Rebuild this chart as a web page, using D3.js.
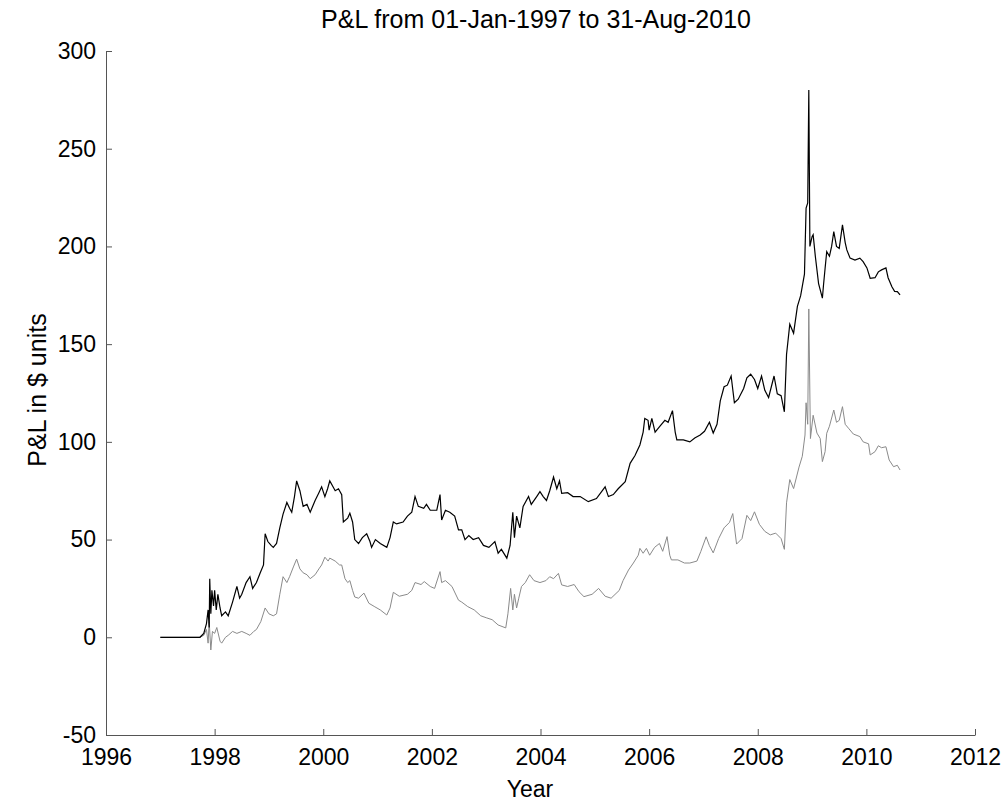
<!DOCTYPE html>
<html>
<head>
<meta charset="utf-8">
<script src="https://cdn.jsdelivr.net/npm/d3@7"></script>
<style>
  body { margin: 0; background: #fff; }
  text { font-family: "Liberation Sans", Arial, sans-serif; fill: #000; }
</style>
</head>
<body>
<div class="chart"></div>
<script>
// --- Data (decimal year, P&L) ---
const titleText = "P&L from 01-Jan-1997 to 31-Aug-2010";
const xTicks = [1996, 1998, 2000, 2002, 2004, 2006, 2008, 2010, 2012];
const yTicks = [-50, 0, 50, 100, 150, 200, 250, 300];

const blackYears = [
  1997.00, 1997.73, 1997.80, 1997.85, 1997.88, 1997.90, 1997.91, 1997.93, 1997.95, 1997.98,
  1998.00, 1998.03, 1998.06, 1998.10, 1998.13, 1998.20, 1998.25, 1998.33, 1998.41, 1998.46,
  1998.50, 1998.58, 1998.65, 1998.70, 1998.77, 1998.84, 1998.90, 1998.93, 1998.98, 1999.04,
  1999.08, 1999.14, 1999.20, 1999.26, 1999.33, 1999.38, 1999.42, 1999.47, 1999.51, 1999.57,
  1999.63, 1999.70, 1999.76, 1999.85, 1999.92, 1999.97, 2000.03, 2000.08, 2000.12, 2000.18,
  2000.22, 2000.28, 2000.34, 2000.37, 2000.45, 2000.49, 2000.54, 2000.58, 2000.65, 2000.72,
  2000.80, 2000.86, 2000.89, 2000.96, 2001.05, 2001.17, 2001.23, 2001.29, 2001.35, 2001.47,
  2001.55, 2001.63, 2001.69, 2001.75, 2001.85, 2001.90, 2001.97, 2002.09, 2002.15, 2002.18,
  2002.25, 2002.33, 2002.42, 2002.49, 2002.55, 2002.61, 2002.68, 2002.76, 2002.86, 2002.95,
  2003.05, 2003.16, 2003.22, 2003.28, 2003.38, 2003.44, 2003.49, 2003.52, 2003.56, 2003.62,
  2003.68, 2003.78, 2003.83, 2003.93, 2003.99, 2004.05, 2004.11, 2004.17, 2004.24, 2004.30,
  2004.35, 2004.39, 2004.50, 2004.60, 2004.73, 2004.88, 2005.03, 2005.19, 2005.25, 2005.34,
  2005.43, 2005.56, 2005.65, 2005.74, 2005.83, 2005.89, 2005.92, 2005.98, 2006.00, 2006.05,
  2006.11, 2006.20, 2006.29, 2006.35, 2006.43, 2006.48, 2006.51, 2006.63, 2006.75, 2006.84,
  2006.94, 2007.02, 2007.11, 2007.18, 2007.25, 2007.31, 2007.38, 2007.44, 2007.51, 2007.57,
  2007.64, 2007.74, 2007.80, 2007.87, 2007.94, 2008.00, 2008.07, 2008.13, 2008.20, 2008.30,
  2008.36, 2008.43, 2008.49, 2008.53, 2008.59, 2008.66, 2008.73, 2008.79, 2008.86, 2008.89,
  2008.92, 2008.94, 2008.96, 2009.00, 2009.02, 2009.06, 2009.12, 2009.19, 2009.21, 2009.24,
  2009.27, 2009.32, 2009.36, 2009.40, 2009.45, 2009.50, 2009.56, 2009.61, 2009.64, 2009.70,
  2009.79, 2009.88, 2009.94, 2010.01, 2010.07, 2010.16, 2010.22, 2010.28, 2010.36, 2010.40,
  2010.47, 2010.52, 2010.57, 2010.62
];
const blackValues = [
  0, 0, 2, 7, 14, 5, 30, 12, 24, 16,
  24, 14, 22, 15, 11, 13, 11, 18, 26, 20,
  22, 28, 31, 25, 28, 33, 37, 53, 49, 47,
  46, 48, 56, 63, 69, 66, 64, 72, 80, 75,
  67, 68, 64, 70, 74, 77, 72, 76, 80, 77,
  75, 76, 73, 59, 61, 63.5, 59, 50, 48, 51,
  53, 49, 46, 50, 48, 46, 51, 59, 58, 59,
  62, 64, 72, 67, 66, 68, 65, 65, 73, 60,
  65, 64, 62, 55, 55, 50, 52, 50, 51, 47,
  46, 49, 43, 45, 40.5, 47, 64, 51, 62, 56,
  67, 72, 68, 72, 74.5, 72, 70, 75, 82, 76,
  80, 73.7, 74, 72, 72, 69.4, 71, 77, 72, 73,
  76, 79.6, 89, 93, 98.4, 105, 112, 111, 106, 112,
  105, 108, 111, 110, 116, 105, 101, 101, 100, 102,
  103.5, 105.4, 110, 104.5, 109, 121, 128.2, 129, 133.7, 120,
  121.8, 127.3, 132.8, 134.6, 131.9, 127.3, 133.7, 126.4, 122.7, 133.7,
  124.6, 123.6, 115.4, 144.7, 160.2, 155.6, 169.3, 174.8, 185.8, 219.6,
  222.3, 280, 200, 205, 206, 195, 181, 173.5, 180, 188.8,
  197.3, 195, 200, 207.6, 200, 199, 211, 202, 198.2, 194,
  193, 194, 192.2, 189, 183.7, 184, 187, 188, 189, 184,
  179.4, 177, 176.9, 175.2
];

const grayYears = [
  1997.00, 1997.73, 1997.80, 1997.85, 1997.88, 1997.90, 1997.93, 1997.96, 1998.00, 1998.04,
  1998.10, 1998.13, 1998.20, 1998.25, 1998.33, 1998.41, 1998.50, 1998.58, 1998.65, 1998.72,
  1998.77, 1998.85, 1998.93, 1999.00, 1999.08, 1999.14, 1999.20, 1999.26, 1999.33, 1999.38,
  1999.45, 1999.51, 1999.57, 1999.63, 1999.70, 1999.76, 1999.85, 1999.92, 1999.97, 2000.03,
  2000.09, 2000.12, 2000.22, 2000.30, 2000.34, 2000.40, 2000.45, 2000.49, 2000.54, 2000.58,
  2000.65, 2000.75, 2000.84, 2000.95, 2001.05, 2001.17, 2001.23, 2001.29, 2001.40, 2001.55,
  2001.63, 2001.69, 2001.80, 2001.86, 2001.97, 2002.05, 2002.15, 2002.18, 2002.25, 2002.37,
  2002.49, 2002.55, 2002.66, 2002.78, 2002.90, 2003.00, 2003.11, 2003.22, 2003.36, 2003.40,
  2003.45, 2003.49, 2003.52, 2003.56, 2003.60, 2003.65, 2003.72, 2003.80, 2003.88, 2003.99,
  2004.10, 2004.17, 2004.24, 2004.33, 2004.39, 2004.50, 2004.62, 2004.71, 2004.80, 2004.95,
  2005.07, 2005.19, 2005.30, 2005.45, 2005.52, 2005.62, 2005.71, 2005.80, 2005.83, 2005.89,
  2005.95, 2006.01, 2006.10, 2006.19, 2006.25, 2006.33, 2006.38, 2006.41, 2006.53, 2006.65,
  2006.75, 2006.88, 2006.95, 2007.05, 2007.11, 2007.18, 2007.28, 2007.38, 2007.48, 2007.54,
  2007.61, 2007.71, 2007.80, 2007.87, 2007.94, 2008.03, 2008.13, 2008.23, 2008.33, 2008.43,
  2008.49, 2008.53, 2008.59, 2008.66, 2008.76, 2008.82, 2008.87, 2008.89, 2008.92, 2008.94,
  2008.97, 2009.02, 2009.09, 2009.15, 2009.19, 2009.24, 2009.27, 2009.32, 2009.40, 2009.45,
  2009.50, 2009.56, 2009.61, 2009.67, 2009.76, 2009.88, 2009.94, 2010.04, 2010.07, 2010.16,
  2010.22, 2010.28, 2010.36, 2010.42, 2010.50, 2010.57, 2010.62
];
const grayValues = [
  0, 0, 1, 4, -3, 8, -6.5, 3, 2, 5,
  -2, -3, 0, 1, 3, 2, 3, 2, 1, 3,
  4, 8, 15, 12, 11, 12, 22, 31, 28, 31,
  36, 40, 35, 33, 32, 30, 32, 35, 37, 41,
  39, 40.5, 39, 37, 37, 30, 28, 29, 24, 20.6,
  20, 22.6, 17.4, 15.6, 14, 11.4, 15, 23, 21, 22,
  24, 28, 27, 28.5, 26, 25, 33.6, 28, 29, 26,
  19, 18, 15.7, 14, 11, 10, 9, 6.3, 4.8, 12,
  25, 14, 22, 15, 20, 26, 28, 32, 29, 28,
  29, 31, 30, 32.7, 26.8, 26, 27, 23.3, 20.8, 22,
  25, 21, 20, 24, 29, 34.4, 38, 42, 45.5, 43,
  45.5, 42, 46, 48, 44, 51.5, 42, 39.6, 39.6, 38,
  38, 39, 43.8, 51.4, 46.9, 43.2, 50.5, 56, 58.8, 63.3,
  47.7, 50.5, 62.4, 59.7, 64.2, 57.8, 54.2, 52.4, 53.3, 50.5,
  45, 68.8, 80.7, 76.1, 87.1, 92.6, 103.5, 120, 109, 168,
  101.7, 113.6, 104.5, 101.7, 89.9, 95, 104.4, 108, 116.3, 110,
  111, 118, 109, 107, 104, 102.7, 100, 99, 93.3, 95,
  98, 97, 97.5, 90.7, 87.3, 88, 85.6
];

const createLineChart = () => {
    // --- Sizes ---
    const width = 1005;
    const height = 805;
    const plot = { left: 106, right: 975, top: 51, bottom: 735 };

    const svg = d3.select(".chart")
        .append("svg")
            .attr("width", width)
            .attr("height", height);

    // --- Scales ---
    const xScale = d3.scaleLinear()
        .domain([1996, 2012])
        .range([plot.left, plot.right]);
    const yScale = d3.scaleLinear()
        .domain([-50, 300])
        .range([plot.bottom, plot.top]);

    const line = d3.line()
        .x(d => xScale(d[0]))
        .y(d => yScale(d[1]));

    // --- Series (gray below, black on top) ---
    const grayData = grayYears.map((yr, i) => [yr, grayValues[i]]);
    const blackData = blackYears.map((yr, i) => [yr, blackValues[i]]);

    svg.append("path")
        .datum(grayData)
        .attr("d", line)
        .attr("fill", "none")
        .attr("stroke", "#8a8a8a")
        .attr("stroke-width", 1);

    svg.append("path")
        .datum(blackData)
        .attr("d", line)
        .attr("fill", "none")
        .attr("stroke", "#000")
        .attr("stroke-width", 1.2);

    // --- Axes (ticks point inward, MATLAB style; plain hyphen for negatives) ---
    const xAxis = svg.append("g")
        .attr("transform", `translate(0, ${plot.bottom})`)
        .call(d3.axisBottom(xScale)
            .tickValues(xTicks)
            .tickFormat(d => String(d))
            .tickSizeInner(-6)
            .tickSizeOuter(0)
            .tickPadding(14));

    const yAxis = svg.append("g")
        .attr("transform", `translate(${plot.left}, 0)`)
        .call(d3.axisLeft(yScale)
            .tickValues(yTicks)
            .tickFormat(d => String(d))
            .tickSizeInner(-6)
            .tickSizeOuter(0)
            .tickPadding(10));

    [xAxis, yAxis].forEach(ax => {
        ax.select(".domain").attr("stroke", "#555");
        ax.selectAll(".tick line").attr("stroke", "#555");
        ax.selectAll(".tick text")
            .style("font-family", "'Liberation Sans', Arial, sans-serif")
            .style("font-size", "23px")
            .attr("fill", "#000");
    });

    // --- Title and axis labels ---
    svg.append("text")
        .text(titleText)
        .attr("x", 536)
        .attr("y", 28)
        .attr("text-anchor", "middle")
        .style("font-size", "25px");

    svg.append("text")
        .text("Year")
        .attr("x", 530)
        .attr("y", 797)
        .attr("text-anchor", "middle")
        .style("font-size", "23px");

    svg.append("text")
        .text("P&L in $ units")
        .attr("transform", `translate(46, 390) rotate(-90)`)
        .attr("text-anchor", "middle")
        .style("font-size", "25px");
};

createLineChart();
</script>
</body>
</html>
